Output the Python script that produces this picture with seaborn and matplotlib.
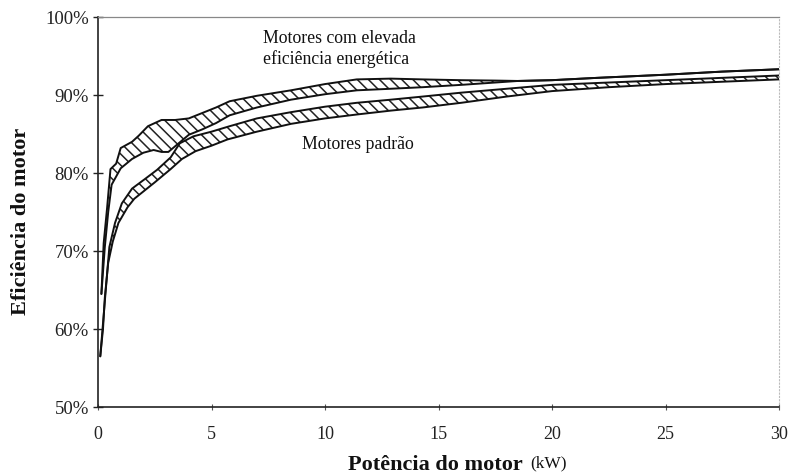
import numpy as np
import pandas as pd
import matplotlib
matplotlib.use("Agg")
import matplotlib.pyplot as plt
import seaborn as sns

# --- Data: motor efficiency (%) vs motor power (kW) ---
# High-efficiency motors: upper / lower edge of the band
hi_top_kw = [0.15, 0.25, 0.4, 0.55, 0.8, 1.0, 1.5, 1.8, 2.2, 2.8, 3.4, 4.0, 4.6, 5.2,
             5.8, 7.0, 8.5, 10.0, 11.4, 12.9, 14.3, 16.0, 17.5, 18.5, 20.0, 22.0,
             25.0, 27.5, 30.0]
hi_top_eff = [64.5, 71.0, 75.5, 80.5, 81.2, 83.2, 84.0, 84.8, 86.0, 86.8, 86.8, 87.0,
              87.7, 88.4, 89.2, 89.9, 90.6, 91.4, 92.0, 92.1, 92.0, 91.9, 91.85, 91.8,
              91.9, 92.2, 92.6, 93.0, 93.3]
hi_bot_kw = [0.15, 0.3, 0.45, 0.6, 1.0, 1.5, 2.0, 2.45, 2.8, 3.1, 3.55, 4.0, 4.6, 5.2,
             5.8, 7.0, 8.5, 10.0, 11.4, 12.9, 14.3, 16.0, 17.5, 18.5, 20.0, 22.0,
             25.0, 27.5, 30.0]
hi_bot_eff = [64.5, 70.5, 75.0, 78.5, 80.6, 81.8, 82.6, 82.95, 82.7, 82.7, 83.8, 84.9,
              85.6, 86.4, 87.4, 88.4, 89.4, 90.1, 90.6, 90.8, 91.0, 91.3, 91.6, 91.8,
              91.9, 92.2, 92.6, 93.0, 93.3]

# Standard motors: upper / lower edge of the band
std_top_kw = [0.1, 0.2, 0.37, 0.5, 0.75, 1.05, 1.5, 2.1, 2.6, 3.2, 3.6, 4.2, 5.0, 5.8,
              7.0, 8.5, 10.0, 11.4, 12.9, 14.3, 16.0, 18.0, 20.0, 22.5, 25.0, 27.5, 30.0]
std_top_eff = [56.5, 60.0, 66.0, 70.5, 73.6, 76.1, 78.0, 79.3, 80.4, 82.0, 83.8, 84.7,
               85.3, 86.0, 87.0, 87.8, 88.5, 89.0, 89.4, 89.8, 90.3, 90.8, 91.3, 91.6,
               91.9, 92.2, 92.5]
std_bot_kw = [0.1, 0.22, 0.3, 0.45, 0.65, 0.9, 1.3, 1.6, 2.5, 3.2, 3.7, 4.3, 5.0, 5.7,
              7.0, 8.5, 10.0, 11.4, 12.9, 14.3, 16.0, 18.0, 20.0, 22.5, 25.0, 27.5, 30.0]
std_bot_eff = [56.5, 60.0, 64.0, 68.5, 71.2, 73.6, 75.6, 76.7, 78.8, 80.5, 81.8, 82.8,
               83.5, 84.3, 85.3, 86.3, 87.0, 87.5, 88.0, 88.4, 89.0, 89.8, 90.5, 91.0,
               91.4, 91.7, 92.0]

y_ticks = [50, 60, 70, 80, 90, 100]
y_tick_labels = ["50%", "60%", "70%", "80%", "90%", "100%"]
x_ticks = [0, 5, 10, 15, 20, 25, 30]
x_tick_labels = ["0", "5", "10", "15", "20", "25", "30"]

label_hi = "Motores com elevada\neficiência energética"
label_std = "Motores padrão"

sns.set_theme(style="white")
plt.rcParams["font.family"] = ["Liberation Serif", "DejaVu Serif"]
plt.rcParams["hatch.linewidth"] = 1.1

fig = plt.figure(figsize=(7.9, 4.75), dpi=100)
ax = fig.add_axes([98 / 790, 1 - 407 / 475, 681 / 790, 390 / 475])

edges = [
    ("hi_top", hi_top_kw, hi_top_eff),
    ("hi_bot", hi_bot_kw, hi_bot_eff),
    ("std_top", std_top_kw, std_top_eff),
    ("std_bot", std_bot_kw, std_bot_eff),
]
df = pd.concat(
    [pd.DataFrame({"kw": k, "eff": e, "edge": name}) for name, k, e in edges],
    ignore_index=True,
)

# Hatched bands between the two edges of each motor class
for (tk, te), (bk, be) in [((hi_top_kw, hi_top_eff), (hi_bot_kw, hi_bot_eff)),
                           ((std_top_kw, std_top_eff), (std_bot_kw, std_bot_eff))]:
    px = np.concatenate([tk, bk[::-1]])
    py = np.concatenate([te, be[::-1]])
    ax.fill(px, py, facecolor="white", edgecolor="#222222", linewidth=0,
            hatch="\\\\\\", zorder=1)

sns.lineplot(data=df, x="kw", y="eff", units="edge", estimator=None, sort=False,
             color="#111111", linewidth=1.4, ax=ax, zorder=3, legend=False)

ax.set_xlim(0, 30)
ax.set_ylim(50, 100)
ax.set_xticks(x_ticks)
ax.set_xticklabels(x_tick_labels)
ax.set_yticks(y_ticks)
ax.set_yticklabels(y_tick_labels)

ax.tick_params(axis="y", direction="inout", length=7, width=1.0, colors="#222222",
               labelsize=13.5, pad=3, left=True)
ax.tick_params(axis="x", direction="inout", length=5, width=0.8, colors="#555555",
               labelcolor="#222222", labelsize=13, pad=11, bottom=True)

for s in ["left", "bottom"]:
    ax.spines[s].set_color("#222222")
    ax.spines[s].set_linewidth(1.2)
ax.spines["top"].set_color("#888888")
ax.spines["top"].set_linewidth(0.9)
ax.spines["top"].set_linestyle((0, (1, 1)))
ax.spines["right"].set_color("#bbbbbb")
ax.spines["right"].set_linewidth(0.8)
ax.spines["right"].set_linestyle((0, (1, 2)))

ax.set_xlabel("")
ax.set_ylabel("Eficiência do motor", fontsize=16, fontweight="bold", color="#111111")
ax.yaxis.set_label_coords(-0.098, 0.477)

fig.text(523 / 790, 1 - 465 / 475, "Potência do motor", ha="right", va="center",
         fontsize=16, fontweight="bold", color="#111111")
fig.text(530 / 790, 1 - 463 / 475, "(kW)", ha="left", va="center",
         fontsize=12.5, color="#111111")

ax.text(7.25, 95.9, label_hi, ha="left", va="center", fontsize=12.8,
        color="#111111", linespacing=1.25)
ax.text(9.0, 83.6, label_std, ha="left", va="center", fontsize=12.8, color="#111111")

fig.savefig("out.png", dpi=100, facecolor="white")
